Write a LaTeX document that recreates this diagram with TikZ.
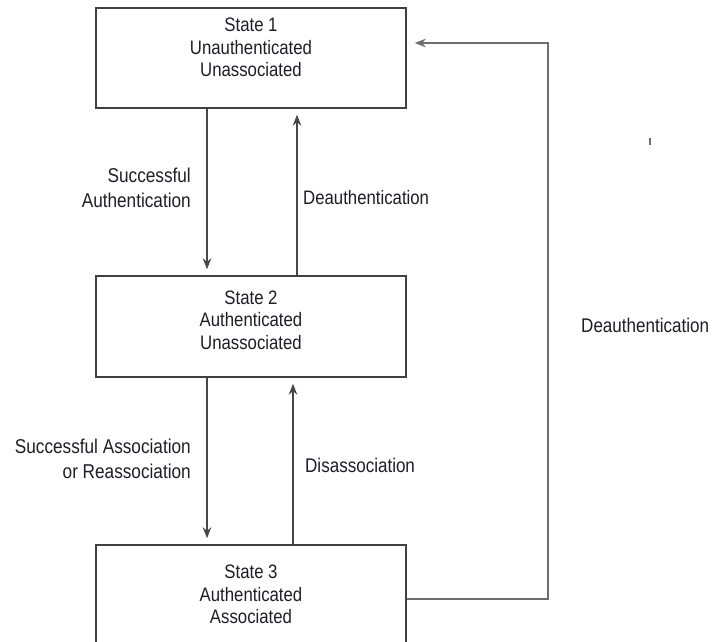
\documentclass[tikz,border=0pt]{standalone}
\usepackage{fontspec}
\setmainfont{Liberation Sans}[FakeStretch=0.86]
\usetikzlibrary{arrows.meta}
\definecolor{boxline}{HTML}{404040}
\definecolor{conline}{HTML}{484848}
\definecolor{loopline}{HTML}{6E6E6E}
\definecolor{txt}{HTML}{1E1E28}
\tikzset{
  statebox/.style={draw=boxline, line width=1.5pt, minimum width=310pt, inner sep=0pt},
  statetext/.style={align=center, inner sep=0pt, text=txt, font=\fontsize{19.5}{22.5}\selectfont},
  lbl/.style={inner sep=0pt, text=txt},
  conn/.style={draw=conline, line width=1.4pt, -{Stealth[length=11pt,width=8.5pt]}, shorten >=6pt},
  loopconn/.style={draw=loopline, line width=1.6pt, -{Stealth[length=11pt,width=8.5pt]}, shorten >=8pt},
}
\begin{document}
\begin{tikzpicture}[x=1pt, y=-1pt]
\useasboundingbox (0,0) rectangle (712,642);
\fill[white] (0,0) rectangle (712,642);

% state boxes
\node[statebox, minimum height=100pt] (s1) at (251,58) {};
\node[statebox, minimum height=101pt] (s2) at (251,326.5) {};
\node[statebox, minimum height=115pt] (s3) at (251,602.5) {};

% state texts
\node[statetext] (s1t) at (251,47.5) {State 1\\Unauthenticated\\Unassociated};
\node[statetext] (s2t) at (251,320) {State 2\\Authenticated\\Unassociated};
\node[statetext] (s3t) at (251,594.5) {State 3\\Authenticated\\Associated};

% vertical transitions
\draw[conn] ([xshift=-44pt]s1.south) -- ([xshift=-44pt]s2.north);
\draw[conn] ([xshift=46pt]s2.north) -- ([xshift=46pt]s1.south);
\draw[conn] ([xshift=-44pt]s2.south) -- ([xshift=-44pt]s3.north);
\draw[conn] ([xshift=42pt]s3.north) -- ([xshift=42pt]s2.south);

% loop from state 3 back to state 1
\coordinate (lr) at (548,599);
\coordinate (ur) at (548,43);
\draw[loopconn] (s3.east |- lr) -- (lr) -- (ur) -- (s1.east |- ur);

% labels
\node[lbl, align=right, anchor=east, font=\fontsize{20}{25}\selectfont] (l1) at (191,188) {Successful\\Authentication};
\node[lbl, anchor=west, font=\fontsize{19.5}{22}\selectfont] (l2) at (303,198) {Deauthentication};
\node[lbl, align=right, anchor=east, font=\fontsize{20}{25}\selectfont] (l3) at (191,459) {Successful Association\\or Reassociation};
\node[lbl, anchor=west, font=\fontsize{19.8}{22}\selectfont] (l4) at (305,465) {Disassociation};
\node[lbl, anchor=west, font=\fontsize{19.8}{22}\selectfont] (l5) at (581,325) {Deauthentication};

% small stray mark
\draw[loopline, line width=1.2pt] (650,138) -- (650,145);
\end{tikzpicture}
\end{document}
